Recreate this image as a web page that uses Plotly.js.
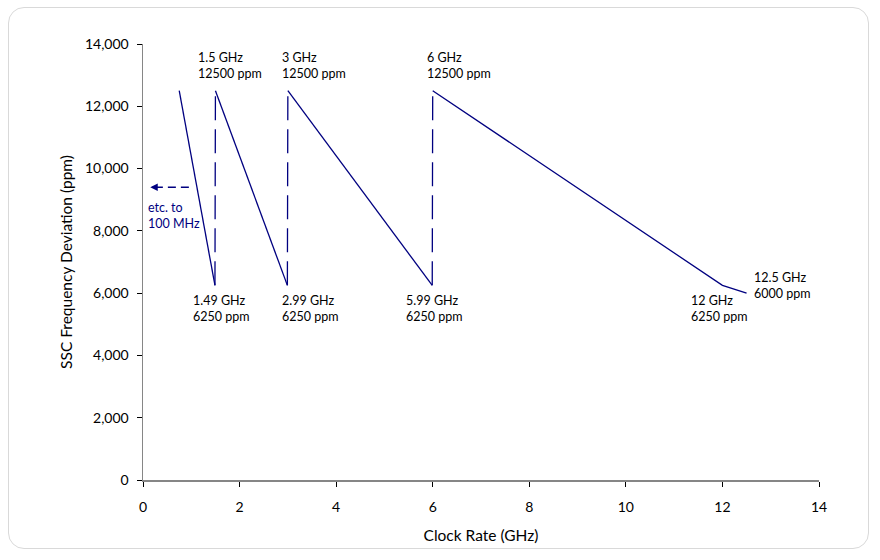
<!DOCTYPE html>
<html>
<head>
<meta charset="utf-8">
<script src="https://cdn.plot.ly/plotly-3.0.1.min.js"></script>
<style>
html,body{margin:0;padding:0;background:#fff;}
#wrap{position:relative;width:880px;height:560px;}
#chart{width:880px;height:560px;}
#frame{position:absolute;left:8px;top:7px;width:861px;height:542px;border:1.5px solid #d9d9d9;border-radius:16px;pointer-events:none;box-sizing:border-box;}
</style>
</head>
<body>
<div id="wrap"><div id="chart"></div><div id="frame"></div></div>
<script>
// Solid sawtooth segments (GHz, ppm)
const solidX = [0.75, 1.49, null, 1.5, 2.99, null, 3, 5.99, null, 6, 12, 12.5];
const solidY = [12500, 6250, null, 12500, 6250, null, 12500, 6250, null, 12500, 6250, 6000];
// Dashed vertical jumps
const jumpX = [1.49, 1.5, null, 2.99, 3, null, 5.99, 6];
const jumpY = [6250, 12500, null, 6250, 12500, null, 6250, 12500];
// "etc. to 100 MHz" arrow
const arrowX = [0.95, 0.22];
const arrowY = [9400, 9400];
// Point labels
const labelText = ["1.5 GHz<br>12500 ppm", "3 GHz<br>12500 ppm", "6 GHz<br>12500 ppm",
                   "1.49 GHz<br>6250 ppm", "2.99 GHz<br>6250 ppm", "5.99 GHz<br>6250 ppm",
                   "12 GHz<br>6250 ppm", "12.5 GHz<br>6000 ppm"];
const labelX = [1.1, 2.84, 5.84, 0.99, 2.84, 5.40, 11.30, 12.61];
const labelY = [13300, 13300, 13300, 5520, 5520, 5520, 5520, 6260];
const xTicks = [0, 2, 4, 6, 8, 10, 12, 14];
const yTicks = [0, 2000, 4000, 6000, 8000, 10000, 12000, 14000];

const navy = '#000080';
const font = 'Lato, "Open Sans", sans-serif';

const traces = [
  {x: solidX, y: solidY, mode: 'lines', line: {color: navy, width: 1.3}, connectgaps: false, hoverinfo: 'skip'},
  {x: jumpX, y: jumpY, mode: 'lines', line: {color: navy, width: 1.3, dash: '24px,9px'}, connectgaps: false, hoverinfo: 'skip'},
  {x: arrowX, y: arrowY, mode: 'lines', line: {color: navy, width: 1.5, dash: '8px,5px'}, hoverinfo: 'skip'}
];

const annotations = labelText.map((t, i) => ({
  x: labelX[i], y: labelY[i], xref: 'x', yref: 'y', text: t, showarrow: false,
  xanchor: 'left', yanchor: 'middle', align: 'left',
  font: {family: font, size: 12.5, color: '#000'}
}));
annotations.push({
  x: 0.15, y: 9400, xref: 'x', yref: 'y', ax: 0.3, ay: 9400, axref: 'x', ayref: 'y',
  text: '', showarrow: true, arrowhead: 2, arrowsize: 1, arrowwidth: 1.5, arrowcolor: navy, standoff: 0
});
annotations.push({
  x: 0.06, y: 8480, xref: 'x', yref: 'y', text: 'etc. to<br>100 MHz', showarrow: false,
  xanchor: 'left', yanchor: 'middle', align: 'left',
  font: {family: font, size: 12.5, color: navy}
});

const layout = {
  width: 880, height: 560,
  margin: {l: 143, r: 61, t: 44, b: 80},
  paper_bgcolor: '#fff', plot_bgcolor: '#fff',
  showlegend: false,
  font: {family: font, size: 14, color: '#000'},
  xaxis: {
    range: [0, 14], tickvals: xTicks, ticktext: xTicks.map(String),
    showgrid: false, zeroline: false, showline: true, linecolor: '#868686', linewidth: 1.5,
    ticks: 'outside', ticklen: 5, tickcolor: '#000', tickwidth: 1, ticklabelstandoff: 9,
    title: {text: 'Clock Rate (GHz)', font: {family: font, size: 15.5}, standoff: 16},
    fixedrange: true
  },
  yaxis: {
    range: [0, 14000], tickvals: yTicks, ticktext: yTicks.map(v => v.toLocaleString('en-US')),
    showgrid: false, zeroline: false, showline: true, linecolor: '#868686', linewidth: 1.5,
    ticks: 'outside', ticklen: 5, tickcolor: '#000', tickwidth: 1, ticklabelstandoff: 5,
    title: {text: 'SSC Frequency Deviation (ppm)', font: {family: font, size: 15.5}, standoff: 8},
    fixedrange: true
  },
  annotations: annotations
};

Plotly.newPlot('chart', traces, layout, {displayModeBar: false, staticPlot: true});
</script>
</body>
</html>
